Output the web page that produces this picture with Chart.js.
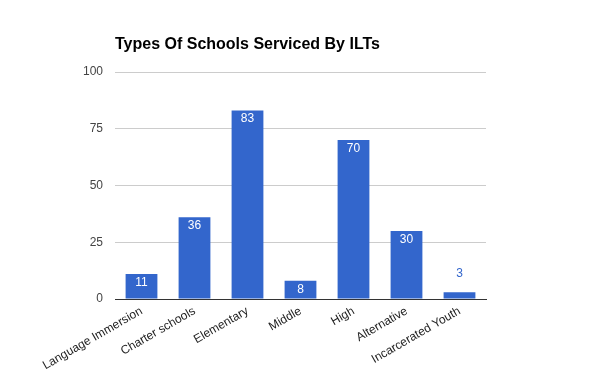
<!DOCTYPE html>
<html>
<head>
<meta charset="utf-8">
<script src="https://cdn.jsdelivr.net/npm/chart.js@4"></script>
<style>
  html, body { margin: 0; padding: 0; background: #fff; }
  #wrap { width: 600px; height: 371px; }
</style>
</head>
<body>
<div id="wrap"><canvas id="chart"></canvas></div>
<script>
const categories = ['Language Immersion', 'Charter schools', 'Elementary', 'Middle', 'High', 'Alternative', 'Incarcerated Youth'];
const schoolCounts = [11, 36, 83, 8, 70, 30, 3];
const yTicks = [0, 25, 50, 75, 100];
const chartTitle = 'Types Of Schools Serviced By ILTs';

const FONT = 'Arial, "Liberation Sans", sans-serif';
const BLUE = '#3366cc';

// title drawn at chart area left edge
const titlePlugin = {
    id: 'leftTitle',
    afterDraw(chart) {
        const ctx = chart.ctx;
        ctx.save();
        ctx.font = 'bold 16px ' + FONT;
        ctx.fillStyle = '#000';
        ctx.textAlign = 'left';
        ctx.textBaseline = 'middle';
        ctx.fillText(chartTitle, chart.chartArea.left, 45);
        ctx.restore();
    }
};

// value labels on bars
const valueLabels = {
    id: 'valueLabels',
    afterDatasetsDraw(chart) {
        const ctx = chart.ctx;
        const meta = chart.getDatasetMeta(0);
        ctx.save();
        ctx.font = '12px ' + FONT;
        ctx.textAlign = 'center';
        ctx.textBaseline = 'middle';
        meta.data.forEach((bar, i) => {
            const h = bar.base - bar.y;
            if (h > 12) {
                ctx.fillStyle = '#fff';
                ctx.fillText(schoolCounts[i], bar.x, bar.y + 8.5);
            } else {
                ctx.fillStyle = BLUE;
                ctx.fillText(schoolCounts[i], bar.x, bar.y - 19);
            }
        });
        ctx.restore();
    }
};

new Chart(document.getElementById('chart'), {
    type: 'bar',
    data: {
        labels: categories,
        datasets: [{
            data: schoolCounts,
            backgroundColor: BLUE,
            borderWidth: 0,
            categoryPercentage: 1,
            barPercentage: 0.6
        }]
    },
    options: {
        responsive: true,
        maintainAspectRatio: false,
        animation: false,
        layout: { padding: { top: 72, right: 114, bottom: 0, left: 0 } },
        plugins: {
            legend: { display: false },
            tooltip: { enabled: false }
        },
        scales: {
            x: {
                grid: { display: false },
                border: { display: true, color: '#333', width: 1 },
                ticks: {
                    color: '#222',
                    font: { family: FONT, size: 12 },
                    minRotation: 30,
                    maxRotation: 30,
                    autoSkip: false,
                    padding: -3
                },
                afterFit(scale) { scale.height = 72; }
            },
            y: {
                min: 0,
                max: 100,
                afterBuildTicks(scale) { scale.ticks = yTicks.map(v => ({ value: v })); },
                grid: {
                    color: ctx => ctx.tick && ctx.tick.value === 0 ? '#333' : '#cccccc',
                    drawTicks: false
                },
                border: { display: false },
                ticks: {
                    color: '#444',
                    font: { family: FONT, size: 12 },
                    padding: 12
                },
                afterFit(scale) { scale.width = 115; }
            }
        }
    },
    plugins: [titlePlugin, valueLabels]
});
</script>
</body>
</html>
